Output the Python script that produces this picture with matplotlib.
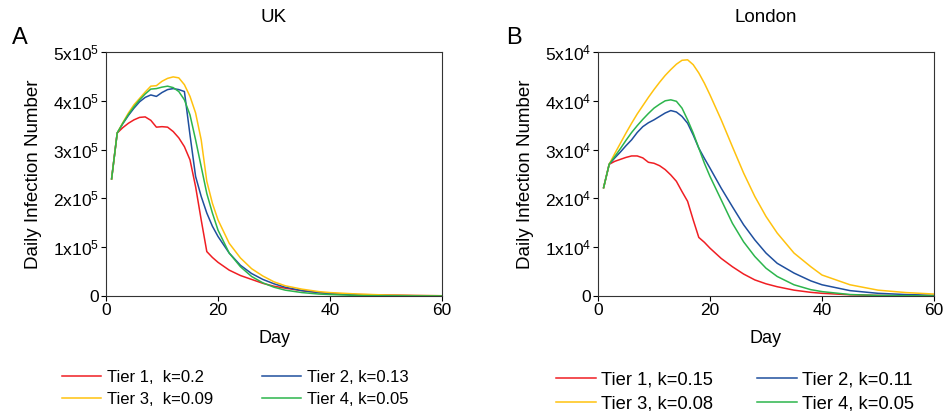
import matplotlib
matplotlib.use("Agg")
import matplotlib.pyplot as plt
from matplotlib.ticker import FuncFormatter

plt.rcParams['font.family'] = ['Liberation Sans', 'DejaVu Sans']
plt.rcParams['mathtext.default'] = 'regular'

days = [1, 2, 3, 4, 5, 6, 7, 8, 9, 10, 11, 12, 13, 14, 15, 16, 17, 18, 19, 20,
        22, 24, 26, 28, 30, 32, 35, 38, 40, 45, 50, 55, 60]

# UK, in units of 1e5
uk_tier1 = [2.40, 3.34, 3.45, 3.54, 3.61, 3.66, 3.67, 3.60, 3.46, 3.47, 3.46, 3.37, 3.24, 3.06, 2.79, 2.24, 1.56, 0.91, 0.79, 0.69,
            0.53, 0.42, 0.34, 0.26, 0.20, 0.16, 0.11, 0.07, 0.055, 0.03, 0.02, 0.01, 0.005]
uk_tier2 = [2.40, 3.34, 3.53, 3.70, 3.85, 3.98, 4.07, 4.12, 4.09, 4.17, 4.23, 4.25, 4.23, 4.19, 3.30, 2.45, 2.04, 1.70, 1.43, 1.22,
            0.88, 0.63, 0.46, 0.34, 0.25, 0.18, 0.11, 0.07, 0.05, 0.025, 0.012, 0.006, 0.003]
uk_tier3 = [2.40, 3.34, 3.55, 3.75, 3.92, 4.05, 4.18, 4.30, 4.31, 4.40, 4.46, 4.49, 4.47, 4.33, 4.09, 3.75, 3.20, 2.35, 1.90, 1.56,
            1.08, 0.78, 0.56, 0.41, 0.29, 0.21, 0.14, 0.09, 0.07, 0.04, 0.02, 0.01, 0.005]
uk_tier4 = [2.40, 3.34, 3.54, 3.72, 3.88, 4.02, 4.14, 4.24, 4.25, 4.28, 4.30, 4.27, 4.19, 4.02, 3.71, 3.20, 2.65, 2.10, 1.70, 1.35,
            0.88, 0.60, 0.40, 0.27, 0.18, 0.12, 0.07, 0.04, 0.03, 0.01, 0.005, 0.002, 0.001]

# London, in units of 1e4
ldn_tier1 = [2.22, 2.70, 2.76, 2.80, 2.84, 2.87, 2.87, 2.83, 2.74, 2.72, 2.67, 2.59, 2.48, 2.35, 2.14, 1.94, 1.56, 1.20, 1.10, 0.98,
             0.77, 0.60, 0.45, 0.33, 0.25, 0.19, 0.12, 0.075, 0.055, 0.025, 0.012, 0.006, 0.003]
ldn_tier2 = [2.22, 2.70, 2.83, 2.95, 3.08, 3.20, 3.35, 3.47, 3.55, 3.61, 3.68, 3.75, 3.80, 3.77, 3.68, 3.54, 3.30, 3.03, 2.82, 2.62,
             2.21, 1.83, 1.46, 1.15, 0.88, 0.67, 0.47, 0.31, 0.23, 0.11, 0.055, 0.03, 0.015]
ldn_tier3 = [2.22, 2.70, 2.92, 3.13, 3.34, 3.54, 3.73, 3.90, 4.07, 4.23, 4.38, 4.52, 4.64, 4.75, 4.83, 4.84, 4.74, 4.57, 4.36, 4.12,
             3.61, 3.06, 2.52, 2.04, 1.63, 1.29, 0.88, 0.60, 0.43, 0.23, 0.12, 0.07, 0.04]
ldn_tier4 = [2.22, 2.70, 2.86, 3.02, 3.19, 3.35, 3.49, 3.62, 3.74, 3.85, 3.93, 4.00, 4.02, 3.99, 3.85, 3.61, 3.34, 3.03, 2.72, 2.45,
             1.97, 1.49, 1.11, 0.81, 0.57, 0.40, 0.23, 0.13, 0.09, 0.03, 0.012, 0.005, 0.002]

uk_labels = ["Tier 1,  k=0.2", "Tier 2, k=0.13", "Tier 3,  k=0.09", "Tier 4, k=0.05"]
ldn_labels = ["Tier 1, k=0.15", "Tier 2, k=0.11", "Tier 3, k=0.08", "Tier 4, k=0.05"]
colors = ["#f01e23", "#1f4f9e", "#ffc20e", "#2cb54c"]

W, H = 945, 411
fig = plt.figure(figsize=(W / 100, H / 100), dpi=100)


def panel(left, series, scale, exp, labels, title, letter, letter_x, leg_x, leg_y,
          leg_fs, hlen, hpad, cspace):
    ax = fig.add_axes([left / W, (H - 296) / H, 336 / W, 244 / H])
    lines = []
    for vals, c, lab in zip(series, colors, labels):
        ln, = ax.plot(days, [v * scale for v in vals], color=c, lw=1.1, label=lab)
        lines.append(ln)
    ax.set_xlim(0, 60)
    ax.set_ylim(0, 5 * scale)
    ax.set_xticks([0, 20, 40, 60])
    ax.set_yticks([i * scale for i in range(6)])
    ax.yaxis.set_major_formatter(FuncFormatter(
        lambda v, p: "0" if v == 0 else r"$%dx10^{%d}$" % (round(v / scale), exp)))
    ax.tick_params(labelsize=12.5, length=3.5, width=0.8, direction='out', pad=1.5)
    for s in ax.spines.values():
        s.set_linewidth(0.8)
        s.set_color('#333333')
    ax.set_xlabel("Day", fontsize=13, labelpad=9)
    ax.set_ylabel("Daily Infection Number", fontsize=13.5, labelpad=8)
    fig.text((left + 168) / W, 1 - 18 / H, title, ha='center', va='center', fontsize=13.5)
    fig.text(letter_x / W, 1 - 38 / H, letter, ha='center', va='center', fontsize=17)
    # Tier 1, Tier 2 on the first row; Tier 3, Tier 4 on the second
    order = [0, 2, 1, 3]
    ax.legend([lines[i] for i in order], [labels[i] for i in order], ncol=2,
              loc='upper left', bbox_to_anchor=(leg_x / W, 1 - leg_y / H),
              bbox_transform=fig.transFigure, frameon=False, fontsize=leg_fs,
              handlelength=hlen, handletextpad=hpad, columnspacing=cspace,
              labelspacing=0.4, borderaxespad=0, borderpad=0)
    return ax


panel(106, [uk_tier1, uk_tier2, uk_tier3, uk_tier4], 1e5, 5, uk_labels,
      "UK", "A", 20, 62, 370, 12, 2.35, 0.35, 2.9)
panel(598, [ldn_tier1, ldn_tier2, ldn_tier3, ldn_tier4], 1e4, 4, ldn_labels,
      "London", "B", 514, 556, 371, 13.2, 2.2, 0.25, 2.4)

fig.savefig("out.png", dpi=100)
